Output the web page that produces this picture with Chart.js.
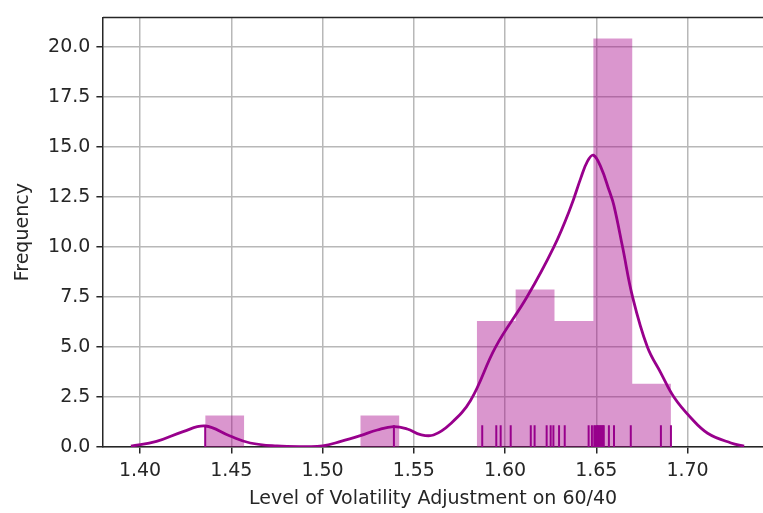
<!DOCTYPE html>
<html><head><meta charset="utf-8">
<script src="https://cdn.jsdelivr.net/npm/chart.js@4.4.1/dist/chart.umd.min.js"></script>
<style>html,body{margin:0;padding:0;overflow:hidden;background:#fff}canvas{display:block}</style>
</head><body>
<canvas id="c" width="776" height="513"></canvas>
<script>
// ---- data ----
const xTicks = [1.40, 1.45, 1.50, 1.55, 1.60, 1.65, 1.70];
const yTicks = [0, 2.5, 5, 7.5, 10, 12.5, 15, 17.5, 20];
const binEdges = [1.4357, 1.4570, 1.4782, 1.4995, 1.5208, 1.5420, 1.5633, 1.5846, 1.6058, 1.6271, 1.6484, 1.6697, 1.6909];
const binHeights = [1.58, 0, 0, 0, 1.58, 0, 0, 6.30, 7.88, 6.30, 20.44, 3.16];
const rugValues = [1.4357, 1.5391, 1.5875, 1.5952, 1.5976, 1.6031, 1.6141, 1.6162, 1.6228, 1.6250,
  1.6265, 1.6296, 1.6327, 1.6458, 1.6476, 1.6489, 1.6495, 1.6503, 1.6507, 1.6512,
  1.6519, 1.6524, 1.6530, 1.6536, 1.6541, 1.6569, 1.6597, 1.6689, 1.6854, 1.6909];
const kdeX = [1.395, 1.409, 1.4236, 1.4357, 1.449, 1.4604, 1.475, 1.490, 1.500, 1.510, 1.5207, 1.530, 1.5389,
  1.5464, 1.5537, 1.5608, 1.570, 1.5811, 1.5948, 1.612, 1.6267, 1.636, 1.6415, 1.6452, 1.6484, 1.6525,
  1.657, 1.6596, 1.6644, 1.6699, 1.678, 1.6854, 1.6925, 1.7019, 1.711, 1.7238, 1.731];
const kdeY = [0.04, 0.28, 0.77, 1.05, 0.56, 0.2, 0.05, 0.02, 0.05, 0.28, 0.57, 0.85, 1.02,
  0.9, 0.62, 0.6, 1.15, 2.33, 5.0, 7.5, 10.0, 12.0, 13.45, 14.3, 14.6, 14.0,
  12.84, 12.1, 10.0, 7.5, 5.0, 3.7, 2.5, 1.45, 0.69, 0.2, 0.04];
const xLabel = 'Level of Volatility Adjustment on 60/40';
const yLabel = 'Frequency';

// ---- build datasets ----
const histPts = binEdges.map((e, i) => ({x: e, y: i < binHeights.length ? binHeights[i] : 0}));
const kdePts = kdeX.map((x, i) => ({x, y: kdeY[i]}));
const RUG_Y = 0.537;
const rugPts = rugValues.map(v => ({x: v, y: RUG_Y}));

const LINE = 'rgb(152,0,140)';
const FONT = {family: 'DejaVu Sans', size: 19};
const TXT = '#262626';

// top spine (the right spine lies outside the cropped picture)
const frame = {
  id: 'frame',
  afterDatasetsDraw(c) {
    const a = c.chartArea, ctx = c.ctx;
    ctx.save();
    ctx.strokeStyle = TXT; ctx.lineWidth = 1.5;
    ctx.beginPath(); ctx.moveTo(a.left, a.top); ctx.lineTo(a.right + 2, a.top); ctx.stroke();
    ctx.restore();
  }
};

Chart.defaults.font.family = 'DejaVu Sans';
new Chart(document.getElementById('c'), {
  type: 'line',
  data: {
    datasets: [
      {label: 'kde', data: kdePts, borderColor: LINE, borderWidth: 2.8, pointRadius: 0,
       tension: 0.4, fill: false, order: 0},
      {label: 'rug', type: 'scatter', data: rugPts, pointStyle: 'line', rotation: 90,
       pointRadius: 10.9, pointBorderWidth: 2, pointBorderColor: LINE, borderColor: LINE, order: 1},
      {label: 'hist', data: histPts, stepped: 'before', fill: 'origin', borderWidth: 0,
       backgroundColor: 'rgba(165,0,135,0.41)', pointRadius: 0, order: 2}
    ]
  },
  options: {
    responsive: false, animation: false, devicePixelRatio: 1,
    layout: {padding: {top: 11, left: 0, right: 0, bottom: 0}},
    plugins: {legend: {display: false}, tooltip: {enabled: false}},
    scales: {
      x: {
        type: 'linear', position: 'bottom', min: 1.3797, max: 1.7414,
        afterFit: s => { s.height = 66; },
        afterBuildTicks: s => { s.ticks = xTicks.map(v => ({value: v})); },
        ticks: {font: FONT, color: TXT, padding: 6, maxRotation: 0, autoSkip: false,
                callback: v => Number(v).toFixed(2)},
        grid: {color: '#b8b8b8', lineWidth: 1.5, tickLength: 6.6, tickColor: TXT, tickWidth: 1.5},
        border: {display: true, color: TXT, width: 1.5},
        title: {display: true, text: xLabel, font: FONT, color: TXT, padding: {top: 0, bottom: 3}}
      },
      y: {
        type: 'linear', min: 0, max: 21.49,
        afterFit: s => { s.width = 103; },
        afterBuildTicks: s => { s.ticks = yTicks.map(v => ({value: v})); },
        ticks: {font: FONT, color: TXT, padding: 6, callback: v => Number(v).toFixed(1)},
        grid: {color: '#b8b8b8', lineWidth: 1.5, tickLength: 6.6, tickColor: TXT, tickWidth: 1.5},
        border: {display: true, color: TXT, width: 1.5},
        title: {display: true, text: yLabel, font: FONT, color: TXT, padding: {top: 12, bottom: 0}}
      }
    }
  },
  plugins: [frame]
});
</script>
</body></html>
